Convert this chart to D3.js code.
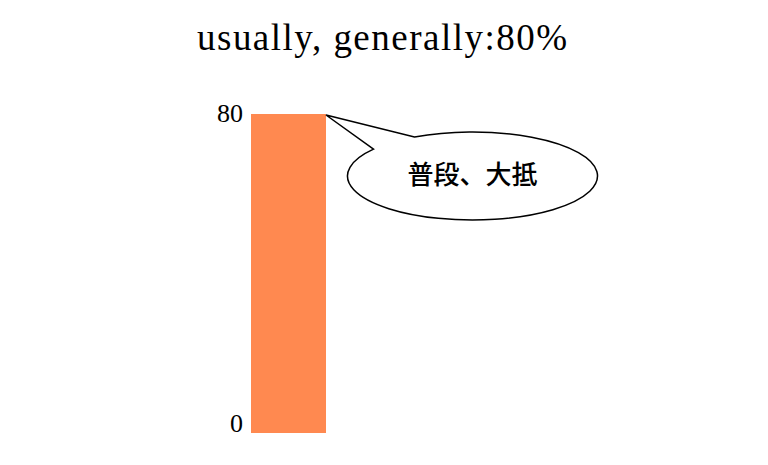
<!DOCTYPE html>
<html>
<head>
<meta charset="utf-8">
<script src="https://cdn.jsdelivr.net/npm/d3@7"></script>
<style>
  html, body { margin: 0; padding: 0; background: #fff; }
  svg { display: block; }
</style>
</head>
<body>
<svg id="chart" width="768" height="465"></svg>
<script>
const width = 768, height = 465

// data
const categories = ['usually, generally']
const values = [80]
const tickValues = [0, 80]
const titleText = 'usually, generally:80%'
const calloutText = '普段、大抵'

const svg = d3.select('#chart')

const x = d3.scaleBand().domain(categories).range([251, 326]).padding(0)
const y = d3.scaleLinear().domain([0, 80]).range([433, 114])

// title
svg.append('text')
   .attr('x', 382)
   .attr('y', 50)
   .attr('text-anchor', 'middle')
   .style('font-family', '"Liberation Serif", "DejaVu Serif", serif')
   .style('font-size', '37px')
   .attr('textLength', 370)
   .attr('lengthAdjust', 'spacing')
   .attr('fill', '#000')
   .text(titleText)

// bars
svg.selectAll('rect.bar').data(values).enter().append('rect')
   .attr('class', 'bar')
   .attr('x', (d, i) => x(categories[i]))
   .attr('y', d => y(d))
   .attr('width', x.bandwidth())
   .attr('height', d => y(0) - y(d))
   .attr('fill', '#ff8950')

// tick labels (only min / max)
svg.selectAll('text.tick').data(tickValues).enter().append('text')
   .attr('class', 'tick')
   .attr('x', 243)
   .attr('y', d => d === 0 ? y(d) - 1 : y(d) + 8)
   .attr('text-anchor', 'end')
   .style('font-family', '"Liberation Serif", "DejaVu Serif", serif')
   .style('font-size', '26px')
   .attr('fill', '#000')
   .text(d => d)

// callout bubble, tip anchored at top-right corner of the bar
const tip = [x(categories[0]) + x.bandwidth(), y(values[0]) + 1]
const cx = 472.5, cy = 176, rx = 125, ry = 44
const ptOn = (px, py) => {
  const a = Math.atan2((py - cy) / ry, (px - cx) / rx)
  return [cx + rx * Math.cos(a), cy + ry * Math.sin(a)]
}
const b1 = ptOn(413, 136)
const b2 = ptOn(373, 149)

svg.append('path')
   .attr('d', `M${b1[0]},${b1[1]} L${tip[0]},${tip[1]} L${b2[0]},${b2[1]} A${rx},${ry} 0 1 0 ${b1[0]},${b1[1]} Z`)
   .attr('fill', '#fff')
   .attr('stroke', '#000')
   .attr('stroke-width', 1.5)
   .attr('stroke-linejoin', 'miter')

svg.append('text')
   .attr('x', cx)
   .attr('y', 172)
   .attr('text-anchor', 'middle')
   .attr('dominant-baseline', 'central')
   .style('font-family', '"Noto Sans CJK JP", sans-serif')
   .style('font-size', '26px')
   .style('font-weight', 500)
   .attr('fill', '#000')
   .text(calloutText)
</script>
</body>
</html>
